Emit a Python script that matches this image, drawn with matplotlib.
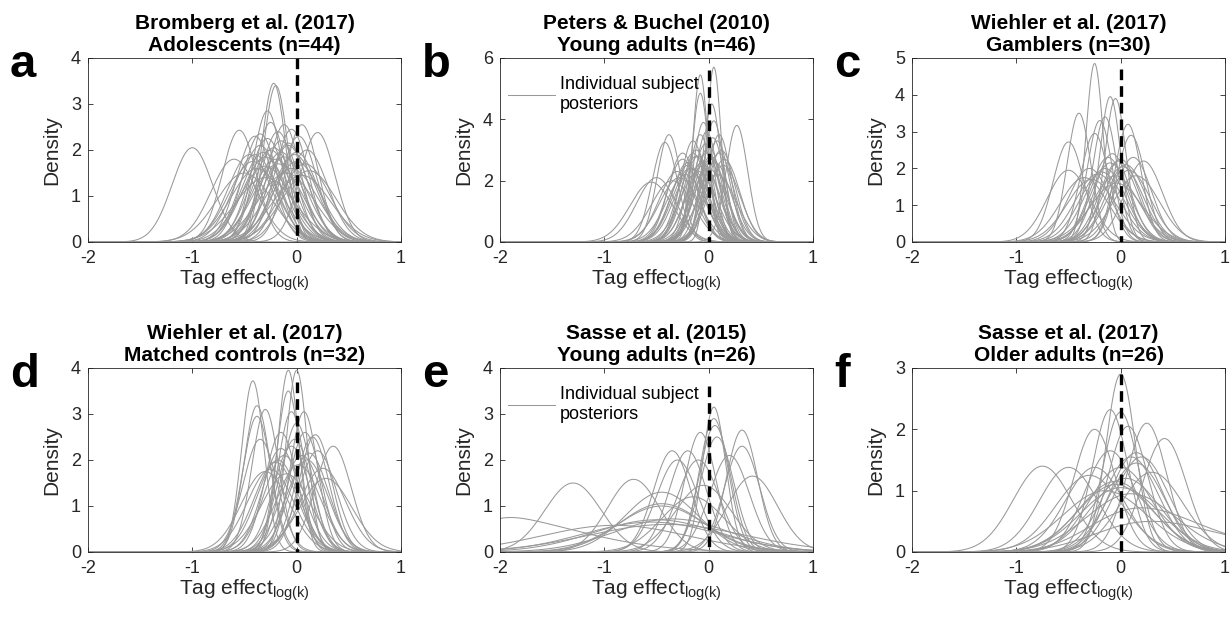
import numpy as np
import matplotlib
matplotlib.use("Agg")
import matplotlib.pyplot as plt
from math import erf

plt.rcParams["font.family"] = ["Liberation Sans", "DejaVu Sans"]
plt.rcParams["mathtext.fontset"] = "custom"
plt.rcParams["mathtext.rm"] = "Liberation Sans"
plt.rcParams["mathtext.it"] = "Liberation Sans:italic"
plt.rcParams["axes.unicode_minus"] = False

# ---- posterior summaries (mode, peak height) ----
titles = ["Bromberg et al. (2017)\nAdolescents (n=44)",
          "Peters & Buchel (2010)\nYoung adults (n=46)",
          "Wiehler et al. (2017)\nGamblers (n=30)",
          "Wiehler et al. (2017)\nMatched controls (n=32)",
          "Sasse et al. (2015)\nYoung adults (n=26)",
          "Sasse et al. (2017)\nOlder adults (n=26)"]
letters = ["a", "b", "c", "d", "e", "f"]
ymax = [4, 6, 5, 4, 4, 3]
ystep = [1, 2, 1, 1, 1, 1]
dash_top = [4.0, 5.6, 4.7, 3.7, 3.6, 2.9]

a_mode = [-1.0, -0.55, -0.6, -0.22, -0.2, -0.28, 0.2, 0.05, -0.25, -0.12,
          -0.4, -0.35, 0.1, -0.05, -0.45, -0.3, -0.15, -0.32, 0.0, -0.08,
          -0.18, -0.38, 0.08, -0.02, -0.25, -0.42, -0.1, -0.3, 0.02, -0.2,
          -0.5, -0.15, 0.12, -0.35, -0.05, -0.28, -0.12, -0.22, 0.05, -0.4,
          -0.08, -0.18, -0.3, 0.0]
a_peak = [2.05, 2.43, 1.8, 3.45, 3.4, 2.85, 2.38, 2.55, 2.6, 2.55,
          2.3, 2.35, 2.0, 2.45, 1.9, 1.85, 2.2, 1.95, 1.75, 2.1,
          2.4, 1.6, 1.7, 1.9, 2.0, 1.75, 1.5, 1.65, 2.3, 1.8,
          1.5, 1.95, 1.55, 2.1, 1.6, 2.25, 1.85, 2.05, 1.45, 1.9,
          2.15, 1.7, 1.4, 1.95]

b_mode = [-0.55, -0.5, -0.38, -0.42, -0.25, -0.15, -0.08, -0.08, 0.05, 0.03,
          0.27, -0.05, 0.05, 0.1, -0.02, -0.3, -0.2, -0.12, 0.0, 0.08,
          -0.18, -0.1, 0.12, -0.05, 0.02, -0.22, -0.15, 0.06, -0.35, -0.03,
          0.15, -0.1, 0.0, -0.28, 0.1, -0.06, -0.2, 0.04, -0.12, 0.08,
          -0.02, -0.16, 0.02, -0.08, 0.14, -0.25]
b_peak = [1.95, 2.1, 3.5, 3.25, 2.9, 3.3, 5.45, 4.85, 5.7, 4.5,
          3.8, 3.9, 3.95, 3.5, 3.6, 2.3, 2.6, 3.0, 3.1, 3.3,
          2.4, 2.8, 3.0, 2.5, 2.7, 2.2, 2.9, 2.6, 2.0, 3.2,
          2.7, 2.3, 2.4, 2.1, 2.9, 2.6, 2.5, 3.4, 2.8, 2.2,
          2.9, 2.4, 2.8, 3.5, 2.5, 2.7]

c_mode = [-0.25, -0.4, -0.5, -0.5, -0.1, -0.05, 0.07, 0.1, -0.15, -0.2,
          -0.25, 0.12, 0.22, 0.0, -0.3, -0.1, -0.18, 0.05, -0.05, -0.35,
          0.02, -0.12, -0.22, 0.08, -0.02, -0.28, -0.08, 0.15, -0.15, -0.04]
c_peak = [4.85, 3.5, 2.72, 1.95, 3.95, 3.9, 3.2, 2.9, 3.4, 3.3,
          2.95, 2.3, 2.2, 2.25, 2.0, 2.15, 1.9, 2.1, 1.8, 1.75,
          2.05, 2.3, 1.85, 1.95, 2.2, 1.7, 2.4, 1.8, 2.0, 1.6]

d_mode = [-0.42, -0.38, -0.38, -0.3, -0.35, -0.08, 0.0, -0.08, -0.05, 0.07,
          0.18, 0.35, 0.25, -0.15, -0.15, -0.1, 0.0, 0.05, 0.15, -0.2,
          -0.25, 0.1, -0.02, 0.2, -0.12, 0.02, -0.05, 0.12, -0.3, 0.08,
          -0.18, 0.28]
d_peak = [3.72, 3.18, 2.95, 3.1, 2.45, 3.95, 3.95, 3.5, 3.05, 3.05,
          2.55, 2.3, 1.82, 2.6, 2.25, 1.7, 2.8, 2.1, 2.5, 1.95,
          1.8, 2.0, 2.45, 2.2, 2.1, 1.9, 2.3, 2.15, 1.75, 2.6,
          2.0, 1.6]

# Sasse panels: many wide / skewed posteriors, so width and skew are read too
e_mode = [-1.9, -1.3, -0.72, -0.45, -0.45, -0.45, -0.35, -0.3, -0.2, -0.08,
          0.05, 0.05, 0.06, 0.08, 0.32, 0.32, 0.2, 0.42, -0.05, -0.5,
          -0.9, -0.35, -0.15, -0.55, -0.1, -0.4]
e_peak = [0.75, 1.5, 1.58, 1.3, 1.05, 1.0, 2.2, 2.0, 2.2, 2.6,
          3.15, 2.9, 2.75, 2.5, 2.65, 2.3, 2.1, 1.65, 1.45, 0.7,
          0.58, 0.72, 1.2, 0.65, 2.0, 0.6]
e_width = [0.9, 0.27, 0.25, 0.35, 0.4, 0.42, 0.18, 0.2, 0.18, 0.15,
           0.13, 0.14, 0.15, 0.16, 0.15, 0.17, 0.19, 0.24, 0.27, 0.6,
           0.7, 0.55, 0.3, 0.65, 0.2, 0.75]
e_skew = [4, 0, 0, 0, 0, 0, 0, 0, 0, 0,
          0.8, 0, 0, 0, 0, 0, 0, 0, 0, 0,
          0, 0, 0, 0, 0, 0]

f_mode = [-0.75, -0.5, -0.25, -0.1, 0.0, 0.0, 0.07, 0.25, 0.42, 0.15,
          0.2, -0.1, -0.25, 0.0, 0.15, 0.05, -0.05, 0.0, 0.2, -0.15,
          0.1, -0.3, 0.3, 0.1, 0.3, -0.05]
f_peak = [1.4, 1.38, 2.0, 2.32, 2.9, 2.28, 2.05, 2.1, 1.85, 1.62,
          1.55, 1.65, 1.38, 1.38, 1.45, 1.2, 1.1, 1.05, 0.72, 1.0,
          0.95, 1.25, 1.3, 1.55, 0.5, 1.15]
f_width = [0.28, 0.28, 0.2, 0.17, 0.14, 0.17, 0.19, 0.19, 0.21, 0.25,
           0.26, 0.24, 0.28, 0.3, 0.27, 0.33, 0.36, 0.38, 0.8, 0.4,
           0.42, 0.32, 0.3, 0.26, 0.9, 0.35]
f_skew = [0, 0, 0, 0, 0, 0, 0, 0, 0, 0,
          0, 0, 0, 0, 0, 0, 0, 0, 2, 0,
          0, 0, 0, 0, 2, 0]

erf_v = np.vectorize(erf)


def posterior_curve(x, mode, peak, sd, skew=0.0):
    """Curve with given mode/peak; skew-normal shape when skew != 0."""
    if skew == 0:
        return peak * np.exp(-0.5 * ((x - mode) / sd) ** 2)
    zz = np.linspace(-3, 3, 3001)
    g = np.exp(-0.5 * zz ** 2) * (1 + erf_v(skew * zz / np.sqrt(2)))
    z0 = zz[np.argmax(g)]
    z = (x - mode) / sd + z0
    return peak * np.exp(-0.5 * z ** 2) * (1 + erf_v(skew * z / np.sqrt(2))) / g.max()


def normal_width(peaks):
    return [1.0 / (p * np.sqrt(2 * np.pi)) for p in peaks]


panels = [
    (a_mode, a_peak, normal_width(a_peak), None),
    (b_mode, b_peak, normal_width(b_peak), None),
    (c_mode, c_peak, normal_width(c_peak), None),
    (d_mode, d_peak, normal_width(d_peak), None),
    (e_mode, e_peak, e_width, e_skew),
    (f_mode, f_peak, f_width, f_skew),
]
show_legend = [False, True, False, False, True, False]

x = np.linspace(-2, 1, 900)
gray = "#999999"
axcol = "#262626"

fig = plt.figure(figsize=(12.32, 6.23), dpi=100)
lefts = [88, 500, 912]
tops = [58, 368]
W, H = 313, 184

for i in range(6):
    r, c = divmod(i, 3)
    ax = fig.add_axes([lefts[c] / 1232, 1 - (tops[r] + H) / 623, W / 1232, H / 623])
    modes, peaks, widths, skews = panels[i]
    h = None
    for k in range(len(modes)):
        sk = skews[k] if skews is not None else 0
        y = posterior_curve(x, modes[k], peaks[k], widths[k], sk)
        h, = ax.plot(x, y, color=gray, lw=0.75)
    ax.plot([0, 0], [dash_top[i], 0], color="black", lw=2.4, ls=(0, (3.2, 1.8)))

    ax.set_xlim(-2, 1)
    ax.set_ylim(0, ymax[i])
    ax.set_xticks([-2, -1, 0, 1])
    ax.set_yticks(np.arange(0, ymax[i] + 0.01, ystep[i]))
    ax.tick_params(direction="in", top=True, right=True, length=3.5, width=0.6,
                   labelsize=13, colors=axcol)
    ax.tick_params(axis="x", pad=6)
    ax.tick_params(axis="y", pad=5)
    for s in ax.spines.values():
        s.set_linewidth(0.6)
        s.set_color(axcol)
    ax.set_ylabel("Density", fontsize=15, color=axcol, labelpad=7)
    ax.set_xlabel(r"Tag effect$_{\mathrm{log(k)}}$", fontsize=15, color=axcol, labelpad=0)
    ax.set_title(titles[i], fontsize=15, fontweight="bold", pad=5, linespacing=1.2)
    if show_legend[i]:
        ax.legend([h], ["Individual subject\nposteriors"], loc="upper left",
                  bbox_to_anchor=(-0.01, 0.96), frameon=False, fontsize=13,
                  handlelength=2.6, handletextpad=0.3, borderaxespad=0.2,
                  labelspacing=0.2)

    fig.text((lefts[c] - 78) / 1232, 1 - (tops[r] + 19) / 623, letters[i],
             fontsize=34, fontweight="bold", ha="left", va="baseline")

fig.savefig("out.png", dpi=100)
